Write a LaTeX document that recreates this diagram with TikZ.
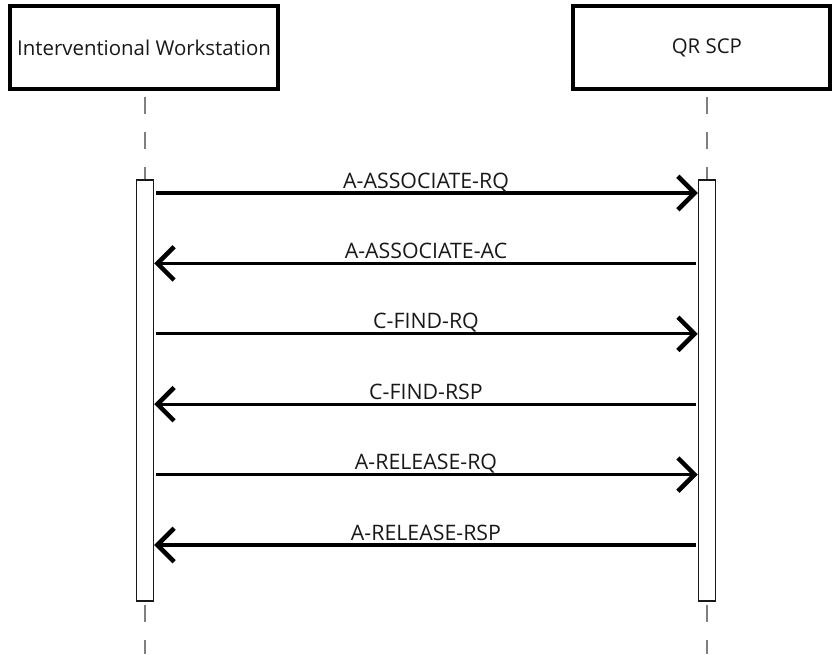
\documentclass[tikz,border=0pt]{standalone}
\usepackage{fontspec}
\setmainfont{Open Sans}
\usetikzlibrary{arrows.meta,calc}

\begin{document}
\begin{tikzpicture}[x=0.75pt,y=0.75pt,yscale=-1,xscale=1,
  actor/.style={draw=black,line width=2.8pt,fill=white,minimum height=62pt,inner sep=0pt,font=\fontsize{15.3}{18}\selectfont,text=black!90},
  actbar/.style={draw=black!90,line width=1.1pt,fill=white,inner sep=0pt,minimum width=12.75pt,minimum height=315.75pt},
  lifeline/.style={draw=black!50,line width=1.2pt,dash pattern=on 12.75pt off 13.5pt},
  msg/.style={line width=2.5pt,-{Straight Barb[length=12.5pt,width=25pt,line width=3.4pt]}},
  msglabel/.style={anchor=base,inner sep=0pt,font=\fontsize{16}{19}\selectfont,text=black!90}]
\useasboundingbox (0,0) rectangle (832,654);

%Shape: Rectangle [id:iw]
\node[actor,minimum width=201pt] (iw) at (144,47.5) {Interventional Workstation};
%Shape: Rectangle [id:qr]
\node[actor,minimum width=192.5pt] (qr) at (701.5,47.5) {\hspace*{8pt}QR SCP};

%Shape: Activation bars
\node[actbar] (iwbar) at (145,390.5) {};
\node[actbar] (qrbar) at (707,390.5) {};

%Dashed lifelines
\draw[lifeline] (iwbar.north |- iw.south) ++(0,6) -- (iwbar.north);
\draw[lifeline] (qrbar.north |- qr.south) ++(0,6) -- (qrbar.north);
\coordinate (iwend) at (145,654);
\coordinate (qrend) at (707,654);
\draw[lifeline] (iwbar.south) ++(0,3) -- (iwend);
\draw[lifeline] (qrbar.south) ++(0,3) -- (qrend);

%Messages
\foreach \y/\txt/\dir [count=\i] in {193/A-ASSOCIATE-RQ/r, 263.4/A-ASSOCIATE-AC/l, 333.8/C-FIND-RQ/r,
                          404.2/C-FIND-RSP/l, 474.6/A-RELEASE-RQ/r, 545/A-RELEASE-RSP/l} {
  \coordinate (ml\i) at (iwbar.east |- 0,\y);
  \coordinate (mr\i) at (qrbar.west |- 0,\y);
  \if r\dir
    \draw[msg] ([xshift=1.5pt]ml\i) -- (mr\i);
  \else
    \draw[msg] ([xshift=-1.5pt]mr\i) -- (ml\i);
  \fi
  \node[msglabel] (lab\i) at ($(ml\i)!0.5!(mr\i)+(0,-5)$) {\txt};
}

\end{tikzpicture}
\end{document}
